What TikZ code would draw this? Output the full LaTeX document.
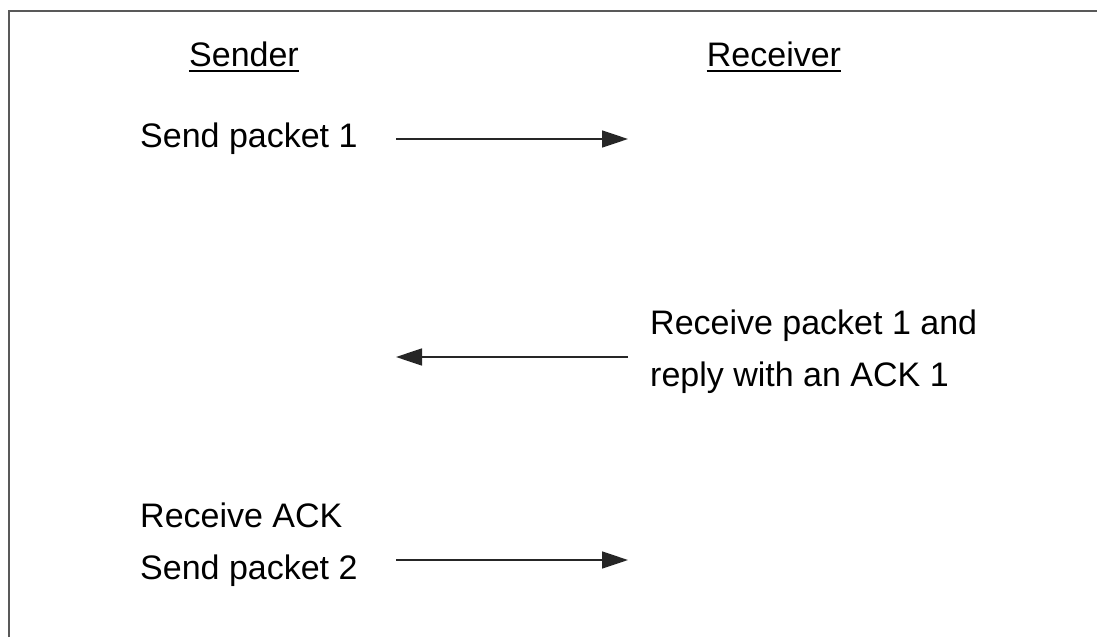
\documentclass[tikz,border=0pt]{standalone}
\usepackage{fontspec}
\setmainfont{Liberation Sans}
\usepackage{tikz}
\usetikzlibrary{positioning,arrows.meta}

\begin{document}
\begin{tikzpicture}[x=1pt,y=-1pt,font=\fontsize{34pt}{52pt}\selectfont]
            \tikzstyle{lbl}=[inner sep=0pt,align=left,anchor=base west]
            \tikzstyle{msg}=[line width=1.6pt,black!85,-{Triangle[length=26pt,width=17pt]}]
            \useasboundingbox (0,0) rectangle (1097,637);
            \draw[line width=2pt,black!65] (9,637) -- (9,11) -- (1097,11);

            \node[inner sep=0pt,anchor=base] (snd) at (244,66) {Sender};
            \node[inner sep=0pt,anchor=base] (rcv) at (774,66) {Receiver};
            \draw[line width=2pt] ([yshift=-4.5pt]snd.base west) -- ([yshift=-4.5pt]snd.base east);
            \draw[line width=2pt] ([yshift=-4.5pt]rcv.base west) -- ([yshift=-4.5pt]rcv.base east);

            \node[lbl] (p1) at (140,147) {Send packet 1};
            \node[lbl] (ack1) at (650,386) {Receive packet 1 and\\reply with an ACK 1};
            \node[lbl] (p2) at (140,579) {Receive ACK\\Send packet 2};

            \coordinate (s1) at (396,139);
            \coordinate (r1) at (628,139);
            \coordinate (s2) at (396,357);
            \coordinate (r2) at (628,357);
            \coordinate (s3) at (396,560);
            \coordinate (r3) at (628,560);

            \draw[msg] (s1) -- (r1);
            \draw[msg] (r2) -- (s2);
            \draw[msg] (s3) -- (r3);
        \end{tikzpicture}
\end{document}
